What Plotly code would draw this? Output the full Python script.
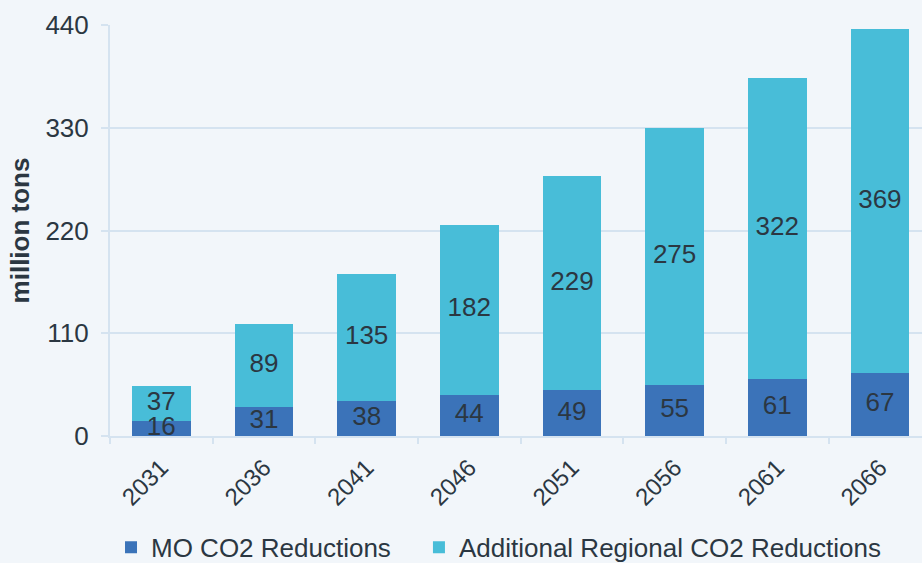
import plotly.graph_objects as go

years = ["2031", "2036", "2041", "2046", "2051", "2056", "2061", "2066"]
mo_reductions = [16, 31, 38, 44, 49, 55, 61, 67]
regional_reductions = [37, 89, 135, 182, 229, 275, 322, 369]
y_ticks = [0, 110, 220, 330, 440]

DARK = "#3b73b9"
CYAN = "#48bdd8"
TEXT = "#2b3742"
GRID = "#d5e3f0"
BG = "#f2f6fa"
FONT = "Liberation Sans, Arial, sans-serif"

fig = go.Figure()
fig.add_bar(x=years, y=mo_reductions, name="MO CO2 Reductions", legend="legend",
            marker=dict(color=DARK, line=dict(width=0)))
fig.add_bar(x=years, y=regional_reductions, name="Additional Regional CO2 Reductions",
            legend="legend2", marker=dict(color=CYAN, line=dict(width=0)))

# value labels centred in each stacked segment
mid_mo = [v / 2 for v in mo_reductions]
mid_reg = [m + r / 2 for m, r in zip(mo_reductions, regional_reductions)]
fig.add_scatter(x=years, y=mid_mo, mode="text", text=[str(v) for v in mo_reductions],
                textfont=dict(size=26, color=TEXT, family=FONT),
                showlegend=False, hoverinfo="skip")
fig.add_scatter(x=years, y=mid_reg, mode="text", text=[str(v) for v in regional_reductions],
                textfont=dict(size=26, color=TEXT, family=FONT),
                showlegend=False, hoverinfo="skip")

legend_style = dict(orientation="h", xref="container", xanchor="left",
                    yref="container", y=0.028, yanchor="middle",
                    font=dict(size=26, color=TEXT), itemwidth=30,
                    bgcolor="rgba(0,0,0,0)")

fig.update_layout(
    width=922, height=563,
    barmode="stack", bargap=0.43,
    paper_bgcolor=BG, plot_bgcolor=BG,
    margin=dict(l=110, r=0, t=25, b=127, autoexpand=False),
    font=dict(family=FONT, color=TEXT),
    legend=dict(x=0.1204, **legend_style),
    legend2=dict(x=0.4544, **legend_style),
    xaxis=dict(
        type="category", range=[-0.5, 7.41], automargin=False,
        tickangle=-45, tickfont=dict(size=24, color=TEXT), ticklabelstandoff=6,
        tickson="boundaries", ticks="outside", ticklen=6, tickcolor=GRID, tickwidth=2,
        showline=True, linecolor=GRID, linewidth=2,
        showgrid=False,
    ),
    yaxis=dict(
        range=[0, 440], tickvals=y_ticks, automargin=False,
        tickfont=dict(size=26, color=TEXT), ticklabelstandoff=7,
        ticks="outside", ticklen=7, tickcolor=GRID, tickwidth=2,
        showgrid=True, gridcolor=GRID, gridwidth=2,
        showline=True, linecolor=GRID, linewidth=2,
        zeroline=False,
        title=dict(text="<b>million tons</b>", font=dict(size=26, color=TEXT), standoff=8),
    ),
)

fig.write_html("out.html")
